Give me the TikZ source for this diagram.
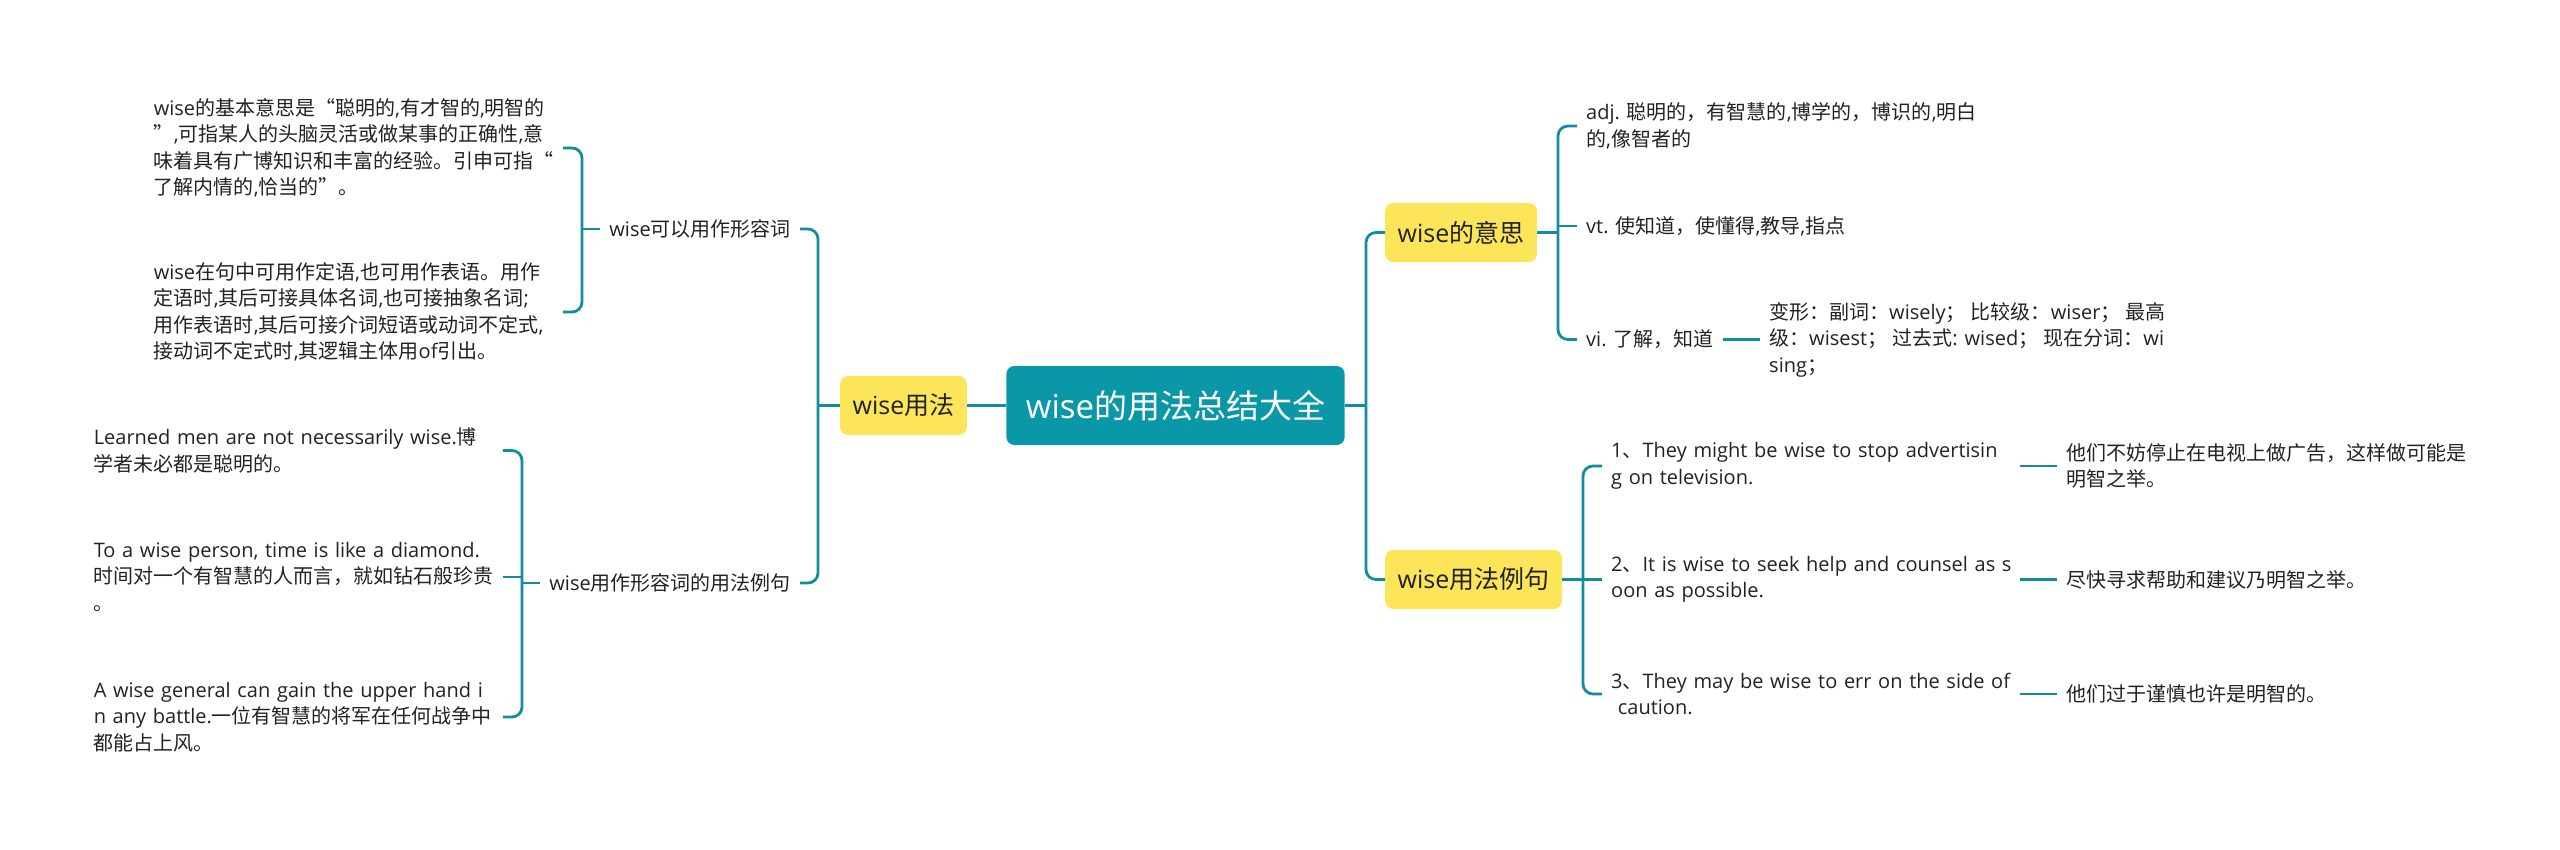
\documentclass[tikz,border=0pt]{standalone}
\usepackage{fontspec}
\setmainfont{Open Sans}
\newfontfamily\latinfont{Open Sans}
\newfontfamily\cjkfont{Noto Sans CJK SC}

% Han characters and full-width punctuation are set in the CJK font
\XeTeXinterchartokenstate=1
\newXeTeXintercharclass\cjkclass
\newcount\cjkcode
\newcommand\cjkrange[2]{%
  \cjkcode=#1\relax
  \loop
    \XeTeXcharclass\cjkcode=\cjkclass
    \ifnum\cjkcode<#2\relax
    \advance\cjkcode by 1
  \repeat}
\cjkrange{"4E00}{"9FFF}
\cjkrange{"3000}{"303F}
\cjkrange{"FF00}{"FFEF}
\cjkrange{"201C}{"201D}
\XeTeXinterchartoks 0 \cjkclass = {\cjkfont}
\XeTeXinterchartoks 4095 \cjkclass = {\cjkfont}
\XeTeXinterchartoks \cjkclass 0 = {\latinfont}
\XeTeXinterchartoks \cjkclass 4095 = {\latinfont}

\definecolor{rootfill}{RGB}{10,152,168}
\definecolor{linkcol}{RGB}{18,141,157}
\definecolor{topicfill}{RGB}{253,229,90}
\definecolor{textcol}{RGB}{34,34,34}

\begin{document}
\begin{tikzpicture}[x=1pt,y=-1pt,
    rootbox/.style={fill=rootfill,text=white,rounded corners=8pt,
      font=\fontsize{33}{40}\selectfont,minimum height=79pt,inner xsep=19.5pt},
    topicbox/.style={fill=topicfill,text=textcol,rounded corners=8pt,
      font=\fontsize{25}{30}\selectfont,minimum height=59pt,inner xsep=12.5pt},
    leaf/.style={text=textcol,font=\fontsize{20}{26.5}\selectfont,
      align=left,inner xsep=9pt,inner ysep=2pt},
    wrapleaf/.style={leaf,text width=400pt},
    link/.style={draw=linkcol,line width=2.8pt,rounded corners=10pt}]
    \useasboundingbox (0,0) rectangle (2560,849);

    \coordinate (jr) at (1366,405.5);
    \coordinate (jl) at (818,405.5);
    \coordinate (jm) at (1558,232.5);
    \coordinate (js) at (1583,579.5);
    \coordinate (ja) at (582,229);
    \coordinate (jb) at (522,583);

    \node[rootbox] (root) at (1175.5,405.5) {wise的用法总结大全};
    \node[topicbox,anchor=east] (usage) at (967,405.5) {wise用法};
    \node[topicbox,anchor=west] (meaning) at (1385,232.5) {wise的意思};
    \node[topicbox,anchor=west] (sample) at (1385,579.5) {wise用法例句};

    % left side
    \node[leaf,anchor=east] (adjuse) at (800,229) {wise可以用作形容词};
    \node[leaf,anchor=east] (adjex) at (800,583) {wise用作形容词的用法例句};
    \node[wrapleaf,anchor=east] (senseA) at (563,148)
      {wise的基本意思是“聪明的,有才智的,明智的\\”,可指某人的头脑灵活或做某事的正确性,意\\味着具有广博知识和丰富的经验。引申可指“\\了解内情的,恰当的”。};
    \node[wrapleaf,anchor=east] (senseB) at (563,312)
      {wise在句中可用作定语,也可用作表语。用作\\定语时,其后可接具体名词,也可接抽象名词;\\用作表语时,其后可接介词短语或动词不定式,\\接动词不定式时,其逻辑主体用of引出。};
    \node[wrapleaf,anchor=east] (lex1) at (503,450.5)
      {Learned men are not necessarily wise.博\\学者未必都是聪明的。};
    \node[wrapleaf,anchor=east] (lex2) at (503,577)
      {To a wise person, time is like a diamond.\\时间对一个有智慧的人而言，就如钻石般珍贵\\。};
    \node[wrapleaf,anchor=east] (lex3) at (503,717)
      {A wise general can gain the upper hand i\\n any battle.一位有智慧的将军在任何战争中\\都能占上风。};

    % right side
    \node[leaf,anchor=west] (adj) at (1577,126)
      {adj. 聪明的，有智慧的,博学的，博识的,明白\\的,像智者的};
    \node[leaf,anchor=west] (vt) at (1577,226) {vt. 使知道，使懂得,教导,指点};
    \node[leaf,anchor=west] (vi) at (1577,339.5) {vi. 了解，知道};
    \node[leaf,anchor=west] (forms) at (1760,339.5)
      {变形：副词：wisely； 比较级：wiser； 最高\\级：wisest； 过去式: wised； 现在分词：wi\\sing；};
    \node[wrapleaf,anchor=west] (ex1) at (1602,466)
      {1、They might be wise to stop advertisin\\g on television.};
    \node[wrapleaf,anchor=west] (ex2) at (1602,579.5)
      {\mbox{2、It is wise to seek help and counsel as s}\\oon as possible.};
    \node[wrapleaf,anchor=west] (ex3) at (1602,694)
      {3、They may be wise to err on the side of\\\ caution.};
    \node[leaf,anchor=west] (tr1) at (2057,466)
      {他们不妨停止在电视上做广告，这样做可能是\\明智之举。};
    \node[leaf,anchor=west] (tr2) at (2057,579.5) {尽快寻求帮助和建议乃明智之举。};
    \node[leaf,anchor=west] (tr3) at (2057,694) {他们过于谨慎也许是明智的。};

    \draw[link] (root.west) -- (usage.east);
    \draw[link] (usage.west) -- (jl);
    \draw[link] (jl) |- (adjuse.east);
    \draw[link] (jl) |- (adjex.east);
    \draw[link] (adjuse.west) -- (ja);
    \draw[link] (ja) |- (senseA.east);
    \draw[link] (ja) |- (senseB.east);
    \draw[link] (adjex.west) -- (jb);
    \draw[link] (jb) |- (lex1.east);
    \draw[link,sharp corners] (jb) |- (lex2.east);
    \draw[link] (jb) |- (lex3.east);

    \draw[link] (root.east) -- (jr);
    \draw[link] (jr) |- (meaning.west);
    \draw[link] (jr) |- (sample.west);
    \draw[link] (meaning.east) -- (jm);
    \draw[link] (jm) |- (adj.west);
    \draw[link,sharp corners] (jm) |- (vt.west);
    \draw[link] (jm) |- (vi.west);
    \draw[link] (vi.east) -- (forms.west);
    \draw[link] (sample.east) -- (js);
    \draw[link] (js) |- (ex1.west);
    \draw[link] (js) -- (ex2.west);
    \draw[link] (js) |- (ex3.west);
    \draw[link] (ex1.east) -- (tr1.west);
    \draw[link] (ex2.east) -- (tr2.west);
    \draw[link] (ex3.east) -- (tr3.west);
\end{tikzpicture}
\end{document}
